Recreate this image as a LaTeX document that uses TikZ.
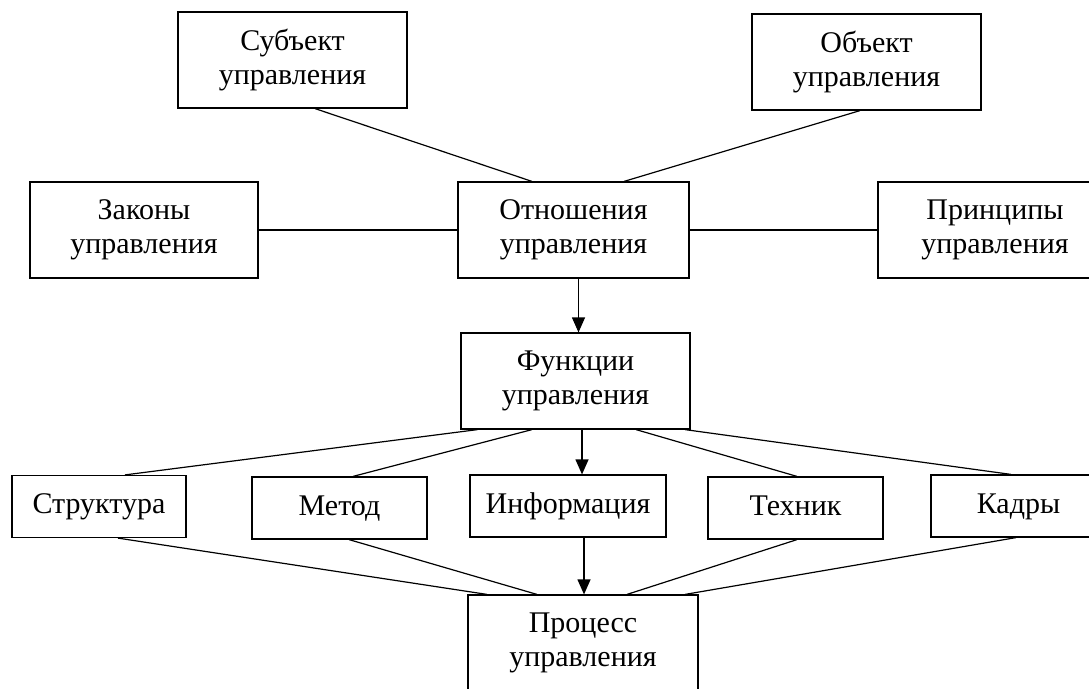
\documentclass[tikz,border=0pt]{standalone}
\usepackage{fontspec}
\setmainfont{Liberation Serif}
\usetikzlibrary{arrows.meta}

\begin{document}
\begin{tikzpicture}[x=1pt,y=-1pt,>={Triangle[length=15pt,width=13pt]},line width=1.2pt,
    block/.style={draw,rectangle,inner sep=0pt,align=center,
      font=\fontsize{30}{34}\selectfont,minimum height=96pt},
    flat/.style={block,minimum height=62pt,text height=20pt,text depth=6pt}]
      \useasboundingbox (0,0) rectangle (1089,688);

      \node[block,minimum width=229pt] (subj) at (292.5,60) {Субъект\\управления};
      \node[block,minimum width=229pt] (obj) at (866.5,62) {Объект\\управления};
      \node[block,minimum width=228pt] (laws) at (144,230) {Законы\\управления};
      \node[block,minimum width=231pt] (rel) at (573.5,230) {Отношения\\управления};
      \node[block,minimum width=234pt] (princ) at (995,230) {Принципы\\управления};
      \node[block,minimum width=229pt] (func) at (575.5,381) {Функции\\управления};

      \node[flat,minimum width=174pt] (struct) at (99,506.5) {Структура};
      \node[flat,minimum width=175pt] (meth) at (339.5,508) {Метод};
      \node[flat,minimum width=196pt] (info) at (568,506) {Информация};
      \node[flat,minimum width=175pt] (tech) at (795.5,508) {Техник};
      \node[flat,minimum width=175pt] (staff) at (1018.5,506) {Кадры};

      \node[block,minimum width=230pt] (proc) at (583,643) {Процесс\\управления};

      \path
      ([xshift=22.5pt]subj.south) edge ([xshift=-41.5pt]rel.north)
      ([xshift=-6.5pt]obj.south) edge ([xshift=50.5pt]rel.north)
      (laws.east) edge (rel.west)
      (rel.east) edge (princ.west)

      ([xshift=-98pt]func.south) edge ([xshift=26pt]struct.north)
      ([xshift=-43.5pt]func.south) edge ([xshift=13.5pt]meth.north)
      ([xshift=60.5pt]func.south) edge ([xshift=1.5pt]tech.north)
      ([xshift=109.5pt]func.south) edge ([xshift=-7.5pt]staff.north)

      ([xshift=19pt]struct.south) edge ([xshift=-96pt]proc.north)
      ([xshift=9.5pt]meth.south) edge ([xshift=-46pt]proc.north)
      ([xshift=1.5pt]tech.south) edge ([xshift=44pt]proc.north)
      ([xshift=-2.5pt]staff.south) edge ([xshift=102pt]proc.north)
      ;

      \path[->]
      ([xshift=5pt]rel.south) edge ([xshift=5pt]rel.south |- func.north)
      ([xshift=6.5pt]func.south) edge ([xshift=6.5pt]func.south |- info.north)
      ([xshift=16pt]info.south) edge ([xshift=16pt]info.south |- proc.north)
      ;
    \end{tikzpicture}
\end{document}
